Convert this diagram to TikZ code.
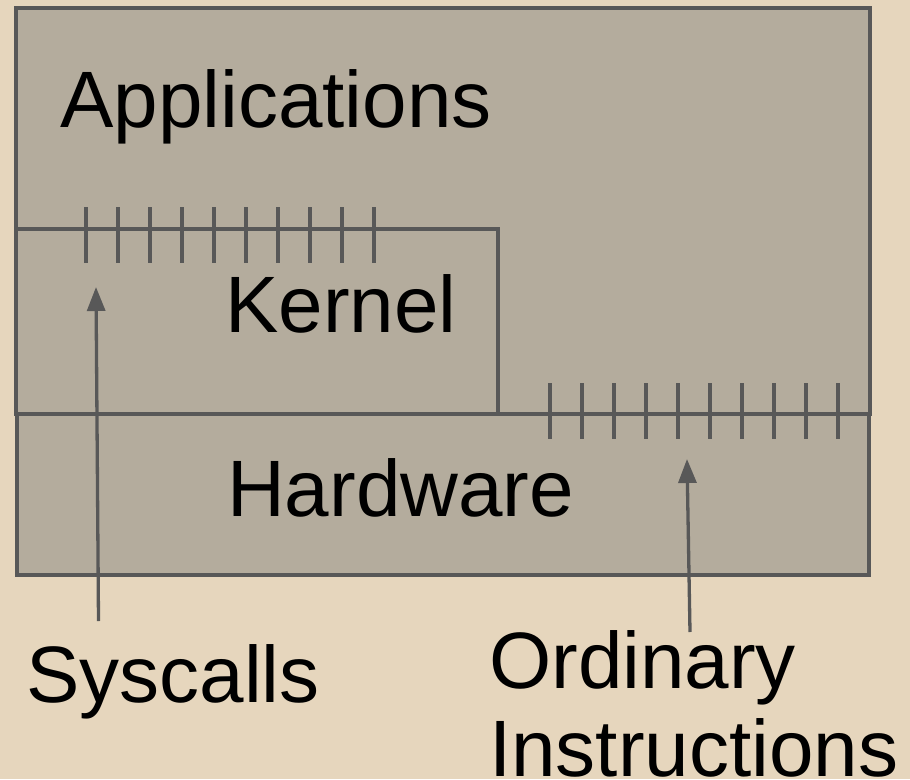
\documentclass[tikz,border=0pt]{standalone}
\usepackage{fontspec}
\setmainfont{Liberation Sans}
\usetikzlibrary{arrows.meta}
\definecolor{paper}{RGB}{230,214,189}
\definecolor{layer}{RGB}{180,172,157}
\definecolor{edge}{RGB}{88,88,88}
\tikzset{
  layerbox/.style={fill=layer, draw=edge, line width=3.3pt},
  tick/.style={draw=edge, line width=3.3pt},
  label/.style={inner sep=0pt, anchor=base west, text=black, font=\fontsize{80}{90}\selectfont},
  pointer/.style={draw=edge, line width=3.3pt, -{Triangle[length=24pt,width=18pt]}},
}
\begin{document}
\begin{tikzpicture}[x=1pt, y=-1pt]
  % page and background
  \useasboundingbox (0,0) rectangle (910,779);
  \fill[paper] (0,0) rectangle (910,779);

  % layers
  \path[layerbox] (16,8) rectangle (870,414);
  \path[layerbox] (16,229) rectangle (498,414);
  \path[layerbox] (17,414) rectangle (869,575);

  % syscall interface ticks on top of the kernel
  \foreach \i in {0,...,9}
    \draw[tick] ({86+32*\i},207) -- ({86+32*\i},263);
  % ordinary instruction ticks on top of the hardware
  \foreach \i in {0,...,9}
    \draw[tick] ({550+32*\i},383) -- ({550+32*\i},439);

  % layer names
  \node[label] (apps) at (60,127) {Applications};
  \node[label] (kern) at (225,332) {Kernel};
  \node[label] (hw) at (227,516) {Hardware};

  % captions below
  \node[label] (sys) at (26,702) {Syscalls};
  \node[label] (ord) at (489,688) {Ordinary};
  \node[label] (ins) at (489,776) {Instructions};

  % pointers from the captions to the tick rows
  \coordinate (sysTail) at (98.5,621);
  \coordinate (sysTip) at (96,287);
  \coordinate (ordTail) at (690,632);
  \coordinate (ordTip) at (687,459);
  \draw[pointer] (sysTail) -- (sysTip);
  \draw[pointer] (ordTail) -- (ordTip);
\end{tikzpicture}
\end{document}
